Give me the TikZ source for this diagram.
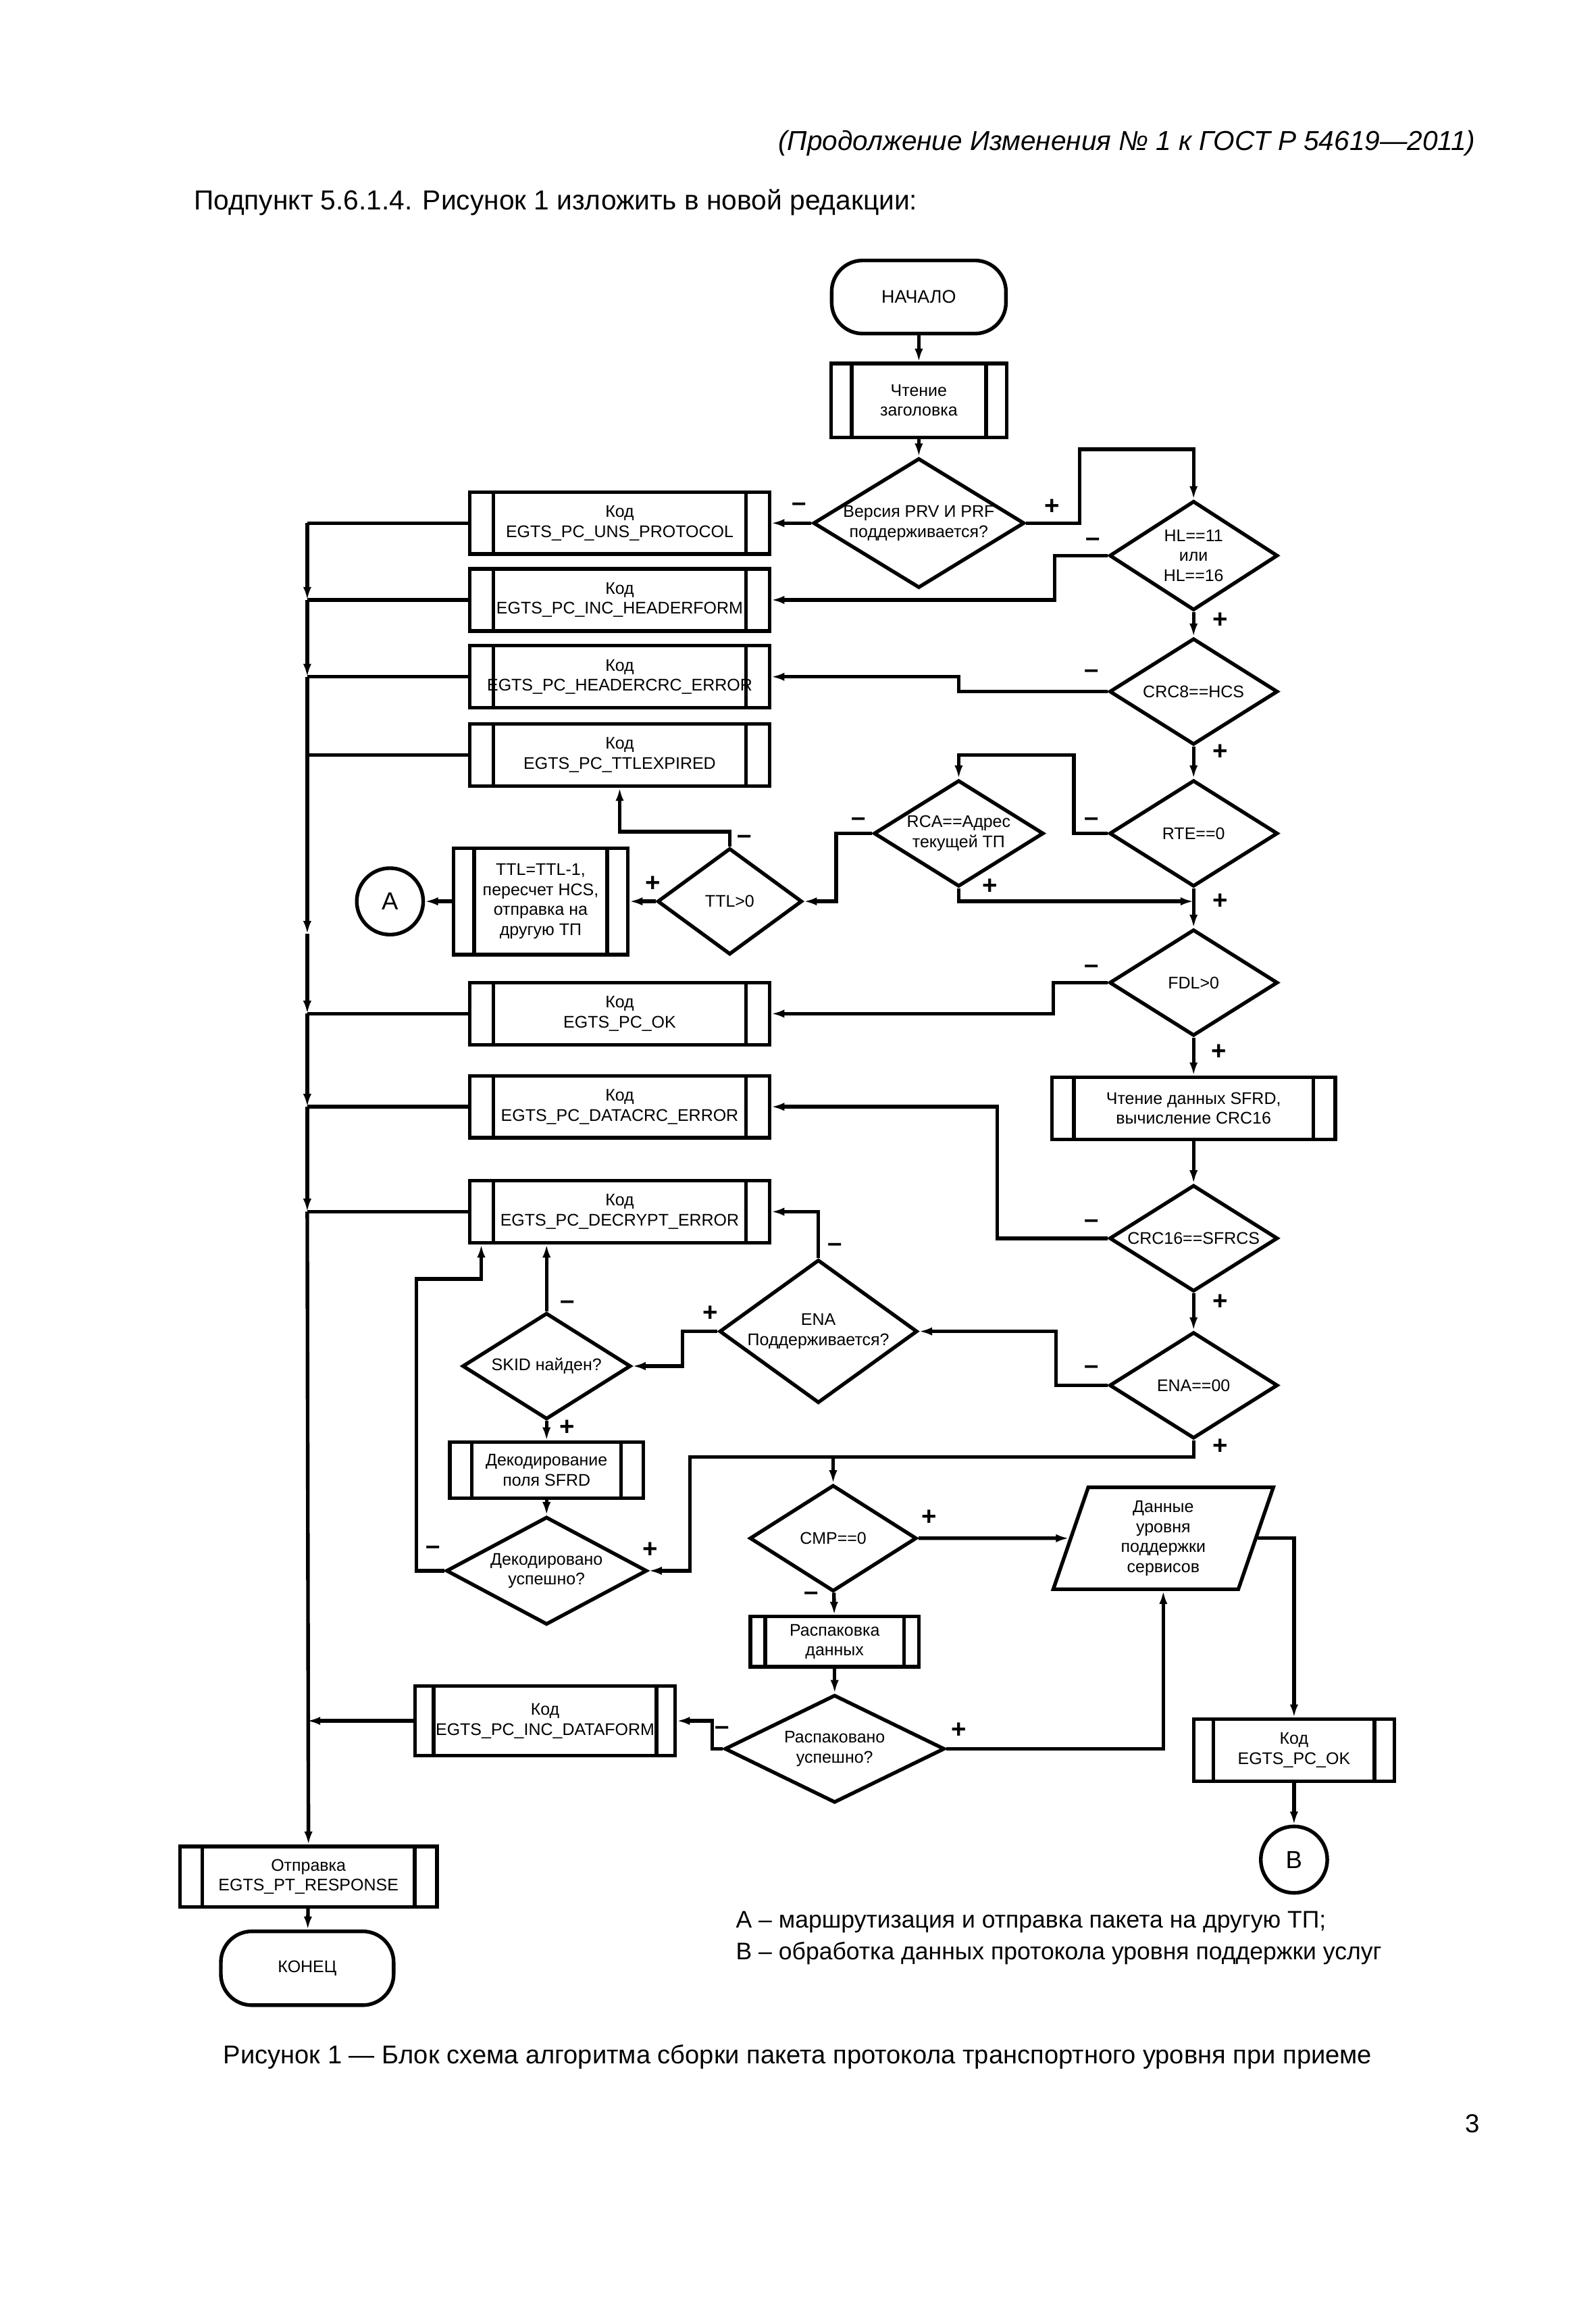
\documentclass[tikz,border=0pt]{standalone}
\usepackage{fontspec}
\setmainfont{Liberation Sans}
\usetikzlibrary{shapes.geometric,arrows.meta,calc}

\newcommand\flowfont{\fontsize{6.5pt}{7.7pt}\selectfont}
\newcommand\signfont{\fontsize{10pt}{12pt}\selectfont\bfseries}

\tikzset{
  barw/.store in=\barw, barw=0.32cm,
  proc/.style={draw, rectangle, inner sep=0pt, align=center, font=\flowfont,
    minimum width=#1, minimum height=0.84cm,
    path picture={\draw ([xshift=\barw]path picture bounding box.north west) -- ([xshift=\barw]path picture bounding box.south west)
      ([xshift=-\barw]path picture bounding box.north east) -- ([xshift=-\barw]path picture bounding box.south east);}},
  cond/.style={draw, diamond, aspect=1.6, inner sep=0pt, align=center, font=\flowfont,
    minimum width=2.28cm, minimum height=1.44cm},
  term/.style={draw, rectangle, rounded corners=0.42cm, minimum width=2.36cm, minimum height=0.99cm,
    font=\fontsize{7pt}{8pt}\selectfont},
  conn/.style={draw, circle, minimum size=0.9cm, inner sep=0pt, font=\fontsize{9.5pt}{11pt}\selectfont},
  io/.style={draw, trapezium, trapezium left angle=65, trapezium right angle=115, trapezium stretches body,
    minimum width=2.98cm, minimum height=1.38cm, inner sep=0pt, align=center, font=\flowfont},
  sgn/.style={inner sep=0pt, font=\signfont},
  txt/.style={inner sep=0pt, font=\fontsize{#1}{12pt}\selectfont},
}

\begin{document}
\begin{tikzpicture}[x=0.02cm, y=-0.02cm, line width=1.4pt, >={Latex[length=5pt,width=3.2pt]}]
\path[fill=white] (0,0) rectangle (1080,1566);
\useasboundingbox (0,0) rectangle (1080,1566);

% page text
\node[txt=10.55pt, anchor=east] (head) at (1000,97) {\itshape (Продолжение Изменения № 1 к ГОСТ Р 54619—2011)};
\node[txt=10.6pt, anchor=west] (sub) at (130,137) {Подпункт 5.6.1.4. Рисунок 1 изложить в новой редакции:};

% main column
\node[term] (start) at (622,201) {НАЧАЛО};
\node[proc=2.38cm, minimum height=1.0cm, barw=0.28cm] (hdr) at (622,271) {Чтение\\заголовка};
\node[cond, minimum width=2.86cm, minimum height=1.66cm] (ver) at (622,354) {Версия PRV И PRF\\поддерживается?};
\node[cond, minimum height=1.48cm] (hl) at (808,376) {HL==11\\или\\HL==16};
\node[cond] (crc8) at (808,468) {CRC8==HCS};
\node[cond] (rte) at (808,564) {RTE==0};
\node[cond, minimum width=2.3cm] (rca) at (649,564) {RCA==Адрес\\текущей ТП};
\node[cond, minimum width=1.96cm] (ttl) at (494,610) {TTL>0};
\node[proc=2.36cm, minimum height=1.44cm, barw=0.28cm] (ttlbox) at (366,610) {TTL=TTL-1,\\пересчет HCS,\\отправка на\\другую ТП};
\node[conn] (A) at (264,610) {А};
\node[cond] (fdl) at (808,665) {FDL>0};
\node[proc=3.84cm, barw=0.3cm] (sfrd) at (808,750) {Чтение данных SFRD,\\вычисление CRC16};
\node[cond] (crc16) at (808,838) {CRC16==SFRCS};
\node[cond] (ena0) at (808,937.5) {ENA==00};
\node[cond, minimum width=2.66cm, minimum height=1.94cm] (ena) at (554,901) {ENA\\Поддерживается?};
\node[cond] (skid) at (370,924.5) {SKID найден?};
\node[proc=2.62cm, minimum height=0.76cm, barw=0.3cm] (dec) at (370,995) {Декодирование\\поля SFRD};
\node[cond, minimum width=2.72cm, minimum height=1.46cm] (decok) at (370,1063) {Декодировано\\успешно?};
\node[cond, minimum width=2.26cm] (cmp) at (564,1041) {CMP==0};
\node[io] (data) at (787.5,1041) {Данные\\уровня\\поддержки\\сервисов};
\node[proc=2.28cm, minimum height=0.68cm, barw=0.2cm] (unp) at (565,1111) {Распаковка\\данных};
\node[cond, minimum width=2.98cm, minimum height=1.46cm] (unpok) at (565,1183.5) {Распаковано\\успешно?};
\node[proc=3.52cm, minimum height=0.94cm, barw=0.25cm] (incdata) at (369,1164.6) {Код\\EGTS\_PC\_INC\_DATAFORM};
\node[proc=2.72cm, barw=0.27cm] (okr) at (876,1184.5) {Код\\EGTS\_PC\_OK};
\node[conn] (B) at (876,1258.5) {В};

% code column
\node[proc=4.06cm] (uns) at (419.5,354) {Код\\EGTS\_PC\_UNS\_PROTOCOL};
\node[proc=4.06cm] (hform) at (419.5,406) {Код\\EGTS\_PC\_INC\_HEADERFORM};
\node[proc=4.06cm] (hcrc) at (419.5,458) {Код\\EGTS\_PC\_HEADERCRC\_ERROR};
\node[proc=4.06cm] (ttlexp) at (419.5,511) {Код\\EGTS\_PC\_TTLEXPIRED};
\node[proc=4.06cm] (ok) at (419.5,686) {Код\\EGTS\_PC\_OK};
\node[proc=4.06cm] (dcrc) at (419.5,749) {Код\\EGTS\_PC\_DATACRC\_ERROR};
\node[proc=4.06cm] (decr) at (419.5,820) {Код\\EGTS\_PC\_DECRYPT\_ERROR};
\node[proc=3.48cm, minimum height=0.82cm, barw=0.3cm] (send) at (208.8,1270) {Отправка\\EGTS\_PT\_RESPONSE};
\node[term, minimum width=2.34cm, minimum height=1.0cm, font=\fontsize{6.5pt}{8pt}\selectfont] (end) at (208,1332) {КОНЕЦ};

% flow
\draw[->] (start) -- (hdr);
\draw[->] (hdr) -- (ver);
\draw[->] (ver.west) -- (uns.east);
\draw[->] (ver.east) -| (731,304) -| (hl.north);
\draw[->] (hl.west) -- (714,376) |- (hform.east);
\draw[->] (hl) -- (crc8);
\draw[->] (crc8.west) -- (649,468) |- (hcrc.east);
\draw[->] (crc8) -- (rte);
\draw[->] (rte.west) -| (727,511) -| (rca.north);
\draw[->] (rca.west) -- (566,564) |- (ttl.east);
\coordinate (j1) at (808,610);
\draw[->] (rca.south) |- (j1);
\draw[->] (rte) -- (fdl);
\draw[->] (ttl.north) -- ++(0,-10) -| (ttlexp.south);
\draw[->] (ttl) -- (ttlbox);
\draw[->] (ttlbox) -- (A);
\draw[->] (fdl.west) -- (713,665) |- (ok.east);
\draw[->] (fdl) -- (sfrd);
\draw[->] (sfrd) -- (crc16);
\draw[->] (crc16.west) -- (675,838) |- (dcrc.east);
\draw[->] (crc16) -- (ena0);
\draw[->] (ena0.west) -- (715,937.5) |- (ena.east);
\draw[->] (ena.north) |- (decr.east);
\draw[->] (ena.west) -- (462,901) |- (skid.east);
\draw[->] (skid.north) -- (skid.north |- decr.south);
\draw[->] (skid) -- (dec);
\draw[->] (dec) -- (decok);
\draw[->] (decok.west) -| (282,865.5) -| ([xshift=0.18cm]decr.south west);
\coordinate (j2) at (564,986);
\draw (ena0.south) |- (j2);
\draw[->] (j2) -- (467,986) |- (decok.east);
\draw[->] (j2) -- (cmp.north);
\draw[->] (cmp) -- (data);
\draw[->] (cmp) -- (unp);
\draw[->] (data.east) -| (okr.north);
\draw[->] (unp) -- (unpok);
\draw[->] (unpok.west) -- (482,1183.5) |- (incdata.east);
\draw[->] (unpok.east) -| (data.south);
\draw[->] (okr) -- (B);

% return bus
\coordinate (bus) at (208,0);
\coordinate (bm) at (208,632);
\foreach \n in {uns,hform,hcrc,ttlexp,ok,dcrc,decr}
  \draw (\n.west) -- (\n.west -| bus);
\draw[->] (uns.west -| bus) -- (hform.west -| bus);
\draw[->] (hform.west -| bus) -- (hcrc.west -| bus);
\draw (hcrc.west -| bus) -- (ttlexp.west -| bus);
\draw[->] (ttlexp.west -| bus) -- (bm);
\draw[->] (bm) -- (ok.west -| bus);
\draw[->] (ok.west -| bus) -- (dcrc.west -| bus);
\draw[->] (dcrc.west -| bus) -- (decr.west -| bus);
\draw[->] (decr.west -| bus) -- (send.north);
\draw[->] (incdata.west) -- (incdata.west -| bus);
\draw[->] (send) -- (end);

% branch signs
\node[sgn] (m1) at (541,343) {–};
\node[sgn] (p1) at (712,343) {+};
\node[sgn] (m2) at (740,367) {–};
\node[sgn] (p2) at (826,420) {+};
\node[sgn] (m3) at (739,456) {–};
\node[sgn] (p3) at (826,509) {+};
\node[sgn] (m4) at (739,556) {–};
\node[sgn] (m5) at (581,556) {–};
\node[sgn] (p4) at (670,600) {+};
\node[sgn] (p5) at (826,610) {+};
\node[sgn] (m6) at (504,568) {–};
\node[sgn] (p6) at (442,598) {+};
\node[sgn] (m7) at (739,656) {–};
\node[sgn] (p7) at (825,712) {+};
\node[sgn] (m8) at (739,828) {–};
\node[sgn] (p8) at (826,881) {+};
\node[sgn] (m9) at (739,927) {–};
\node[sgn] (m10) at (565,844) {–};
\node[sgn] (p9) at (481,889) {+};
\node[sgn] (m11) at (384,883) {–};
\node[sgn] (p10) at (384,966) {+};
\node[sgn] (p11) at (826,979) {+};
\node[sgn] (m12) at (293,1049) {–};
\node[sgn] (p12) at (440,1049) {+};
\node[sgn] (p13) at (629,1027) {+};
\node[sgn] (m13) at (549,1080) {–};
\node[sgn] (m14) at (489,1171) {–};
\node[sgn] (p14) at (649,1171) {+};

% legend and caption
\node[txt=9.25pt, anchor=west] (leg1) at (497,1301) {А – маршрутизация и отправка пакета на другую ТП;};
\node[txt=9.25pt, anchor=west] (leg2) at (497,1322) {В – обработка данных протокола уровня поддержки услуг};
\node[txt=9.92pt, anchor=west] (cap) at (150,1392) {Рисунок 1 — Блок схема алгоритма сборки пакета протокола транспортного уровня при приеме};
\node[txt=10pt] (page) at (997,1437) {3};
\end{tikzpicture}
\end{document}
